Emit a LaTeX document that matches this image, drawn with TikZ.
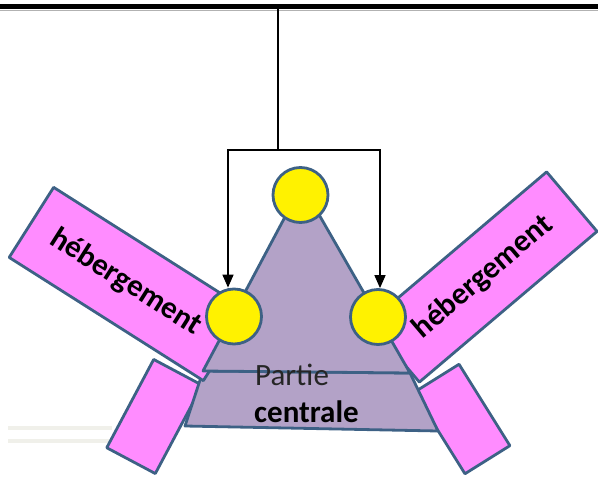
\documentclass[tikz,border=0pt]{standalone}
\usepackage{fontspec}
\setmainfont{Carlito}
\usetikzlibrary{arrows.meta}
\definecolor{pinkf}{HTML}{FF8CFF}
\definecolor{lav}{HTML}{B3A2C7}
\definecolor{edgec}{HTML}{3D6185}
\definecolor{faint}{HTML}{F0F0EA}
\begin{document}
\begin{tikzpicture}[x=1pt,y=-1pt,
  outl/.style={draw=edgec, line width=2.8pt, line join=round},
  pinkbox/.style={outl, fill=pinkf, rectangle, inner sep=0pt},
  ball/.style={outl, fill=yellow, circle, minimum size=55pt, inner sep=0pt},
  lbl/.style={font=\fontsize{31}{33}\selectfont, inner sep=0pt, text=black!85},
  wire/.style={line width=1.6pt, draw=black},
  tip/.style={-{Triangle[length=13pt,width=11pt]}}]
\useasboundingbox (0,0) rectangle (598,477);
% faint strip
\draw[faint, line width=4pt] (8,428) -- (112,428);
\draw[faint, line width=4pt] (8,440.5) -- (112,440.5);
% legs
\node[pinkbox, minimum width=55pt, minimum height=100pt, rotate=-28] (legL) at (154.5,416.5) {};
\node[pinkbox, minimum width=53pt, minimum height=96pt, rotate=32] (legR) at (462,419) {};
% lower part
\draw[outl, fill=lav] (203,371) -- (410,373) -- (438,431) -- (185,426) -- cycle;
% big boxes
\node[pinkbox, minimum width=230pt, minimum height=83pt, rotate=-32.4] (hebL) at (128.5,284)
  {\hspace*{-6pt}\fontsize{31}{33}\selectfont\bfseries hébergement};
\node[pinkbox, minimum width=233pt, minimum height=78pt, rotate=40.3] (hebR) at (483,277)
  {\raisebox{-6pt}{\fontsize{31}{33}\selectfont\bfseries hébergement}};
% triangle
\draw[outl, fill=lav] (302,185) -- (410,373) -- (203,371) -- cycle;
% text
\node[lbl, anchor=base west] (partie) at (255,385) {Partie};
\node[lbl, anchor=base west, font=\fontsize{31}{33}\selectfont\bfseries, text=black] (centrale) at (254,422) {centrale};
% circles
\node[ball] (cT) at (300.5,195) {};
\node[ball] (cL) at (234,316.5) {};
\node[ball] (cR) at (378,317) {};
% top bar and connectors
\draw[gray!60, line width=1pt] (0,10) -- (598,10);
\draw[line width=5pt] (0,6.5) coordinate (barL) -- (598,6.5) coordinate (barR);
\coordinate (bus) at (278,7);
\coordinate (j) at (278,150);
\draw[wire] (bus) -- (j);
\draw[wire, tip] (j) -| ([xshift=-6pt]cL.north);
\draw[wire, tip] (j) -| ([xshift=2pt]cR.north);
\end{tikzpicture}
\end{document}
